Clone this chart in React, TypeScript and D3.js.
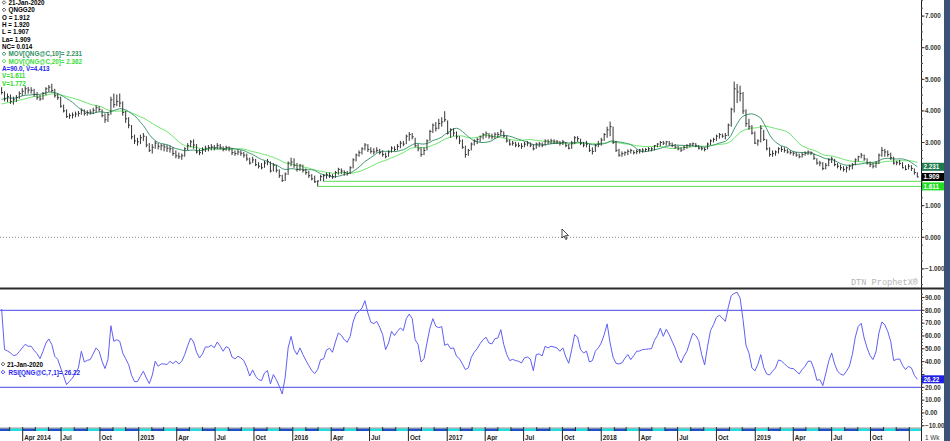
import React, { useEffect, useRef } from 'react';
import * as d3 from 'd3';

// weekly bars: [high, low, close]
type Bar = [number, number, number];

// closes before the visible window, only used to seed the moving averages
const warmupCloses = [3.95, 4.05, 4.1, 4.0, 3.9, 4.05, 4.2, 4.3, 4.15, 4.05, 4.1, 4.25, 4.35, 4.4, 4.3, 4.2, 4.35, 4.5, 4.6];

const yearStarts = ['2014-02-10', '2015-01-05', '2016-01-04', '2017-01-02', '2018-01-01', '2019-01-07', '2020-01-06'];

const bars2014: Bar[] = [
    [4.75, 4.52, 4.58], [4.62, 4.30, 4.38], [4.55, 4.28, 4.45], [4.52, 4.22, 4.30], [4.45, 4.20, 4.35], [4.50, 4.28, 4.42], [4.62, 4.38, 4.55], [4.72, 4.48, 4.62], [4.78, 4.52, 4.70], [4.76, 4.55, 4.66],
    [4.75, 4.55, 4.65], [4.70, 4.45, 4.52], [4.60, 4.35, 4.42], [4.50, 4.32, 4.38], [4.60, 4.35, 4.55], [4.75, 4.50, 4.70], [4.82, 4.60, 4.75], [4.86, 4.58, 4.65], [4.70, 4.42, 4.48], [4.55, 4.35, 4.42],
    [4.45, 4.10, 4.15], [4.20, 3.95, 4.00], [4.05, 3.78, 3.82], [3.92, 3.75, 3.85], [3.95, 3.76, 3.87], [3.98, 3.80, 3.90], [4.00, 3.82, 3.92], [4.08, 3.88, 4.02], [4.05, 3.85, 3.92], [4.02, 3.85, 3.95],
    [4.05, 3.88, 3.96], [4.10, 3.90, 4.02], [4.18, 3.95, 4.10], [4.15, 3.98, 4.05], [4.05, 3.80, 3.85], [3.92, 3.62, 3.72], [3.95, 3.65, 3.88], [4.45, 3.88, 4.35], [4.55, 4.10, 4.20], [4.52, 4.15, 4.30],
    [4.55, 4.12, 4.25], [4.30, 3.85, 3.95], [4.00, 3.62, 3.75], [3.80, 3.45, 3.55], [3.55, 3.10, 3.18], [3.25, 2.95, 3.05], [3.15, 2.90, 3.02]
];
const bars2015: Bar[] = [
    [3.25, 2.95, 3.15], [3.30, 3.05, 3.20], [3.20, 2.85, 2.92], [2.98, 2.70, 2.75], [2.95, 2.65, 2.85], [3.05, 2.80, 2.98], [2.98, 2.78, 2.88], [2.95, 2.75, 2.90], [2.95, 2.72, 2.86], [2.92, 2.70, 2.82],
    [2.90, 2.68, 2.80], [2.85, 2.58, 2.65], [2.75, 2.50, 2.58], [2.68, 2.48, 2.55], [2.65, 2.45, 2.58], [2.85, 2.55, 2.80], [2.98, 2.75, 2.90], [3.08, 2.85, 3.02], [3.10, 2.80, 2.92], [2.95, 2.65, 2.70],
    [2.80, 2.60, 2.68], [2.85, 2.62, 2.78], [2.90, 2.70, 2.82], [2.92, 2.72, 2.84], [2.95, 2.75, 2.86], [2.92, 2.75, 2.82], [2.98, 2.78, 2.90], [2.95, 2.78, 2.85], [2.88, 2.72, 2.78], [2.90, 2.74, 2.84],
    [2.88, 2.72, 2.80], [2.82, 2.60, 2.68], [2.75, 2.58, 2.65], [2.78, 2.60, 2.70], [2.75, 2.58, 2.66], [2.70, 2.52, 2.60], [2.65, 2.42, 2.48], [2.52, 2.30, 2.35], [2.55, 2.35, 2.45], [2.48, 2.25, 2.30],
    [2.38, 2.18, 2.25], [2.35, 2.15, 2.20], [2.42, 2.20, 2.35], [2.48, 2.28, 2.40], [2.40, 2.05, 2.10], [2.35, 2.08, 2.28], [2.30, 2.05, 2.12], [2.15, 1.88, 1.95], [1.98, 1.75, 1.80], [2.05, 1.78, 2.00],
    [2.40, 1.98, 2.35], [2.52, 2.25, 2.38]
];
const bars2016: Bar[] = [
    [2.50, 2.20, 2.28], [2.35, 2.08, 2.15], [2.32, 2.10, 2.28], [2.30, 2.05, 2.12], [2.18, 1.98, 2.05], [2.10, 1.88, 1.95], [2.00, 1.80, 1.85], [1.95, 1.72, 1.76], [1.80, 1.611, 1.78], [1.98, 1.78, 1.92],
    [2.00, 1.772, 1.95], [2.05, 1.85, 1.98], [2.05, 1.88, 1.96], [2.00, 1.85, 1.92], [2.10, 1.88, 2.05], [2.20, 1.98, 2.15], [2.18, 2.00, 2.10], [2.12, 1.95, 2.05], [2.10, 1.95, 2.02], [2.25, 2.00, 2.20],
    [2.50, 2.18, 2.45], [2.65, 2.40, 2.60], [2.75, 2.55, 2.68], [2.85, 2.62, 2.80], [2.98, 2.75, 2.92], [2.95, 2.70, 2.78], [2.85, 2.65, 2.72], [2.82, 2.62, 2.70], [2.85, 2.68, 2.75], [2.80, 2.62, 2.68],
    [2.75, 2.55, 2.62], [2.68, 2.50, 2.55], [2.75, 2.55, 2.70], [2.88, 2.68, 2.82], [2.88, 2.72, 2.78], [2.95, 2.75, 2.88], [3.05, 2.82, 2.98], [3.05, 2.88, 2.95], [3.25, 2.95, 3.20], [3.33, 3.05, 3.25],
    [3.30, 3.10, 3.18], [3.15, 2.85, 2.90], [2.95, 2.72, 2.80], [2.85, 2.55, 2.62], [2.85, 2.60, 2.75], [3.10, 2.75, 3.05], [3.40, 3.05, 3.35], [3.60, 3.30, 3.55], [3.65, 3.35, 3.45], [3.75, 3.42, 3.60],
    [3.80, 3.50, 3.65], [3.99, 3.65, 3.72]
];
const bars2017: Bar[] = [
    [3.70, 3.25, 3.30], [3.45, 3.15, 3.40], [3.45, 3.20, 3.30], [3.35, 3.10, 3.18], [3.20, 2.95, 3.05], [3.10, 2.80, 2.85], [2.90, 2.52, 2.62], [2.80, 2.58, 2.75], [3.00, 2.75, 2.95], [3.10, 2.90, 3.05],
    [3.15, 2.95, 3.10], [3.22, 3.02, 3.18], [3.30, 3.10, 3.25], [3.35, 3.15, 3.28], [3.30, 3.12, 3.20], [3.28, 3.10, 3.18], [3.32, 3.12, 3.26], [3.33, 3.15, 3.25], [3.42, 3.20, 3.35], [3.35, 3.15, 3.20],
    [3.22, 3.00, 3.05], [3.10, 2.90, 2.95], [3.05, 2.90, 2.98], [3.02, 2.85, 2.92], [3.00, 2.85, 2.90], [2.98, 2.80, 2.88], [3.02, 2.85, 2.95], [3.05, 2.88, 2.98], [3.00, 2.85, 2.92], [2.95, 2.75, 2.80],
    [3.00, 2.80, 2.95], [3.02, 2.85, 2.96], [3.00, 2.85, 2.92], [3.10, 2.90, 3.05], [3.10, 2.95, 3.02], [3.12, 2.95, 3.05], [3.10, 2.95, 3.04], [3.08, 2.95, 3.02], [3.05, 2.90, 2.98], [3.08, 2.92, 3.02],
    [3.02, 2.85, 2.90], [2.95, 2.78, 2.82], [3.05, 2.80, 2.98], [3.20, 2.95, 3.15], [3.20, 3.02, 3.12], [3.12, 2.92, 2.98], [3.02, 2.85, 2.92], [3.05, 2.85, 2.95], [2.95, 2.70, 2.75], [2.85, 2.62, 2.72],
    [2.95, 2.70, 2.90], [3.05, 2.85, 2.95]
];
const bars2018: Bar[] = [
    [3.15, 2.90, 3.08], [3.30, 3.05, 3.25], [3.50, 3.15, 3.40], [3.66, 3.20, 3.50], [3.50, 2.95, 3.00], [3.05, 2.70, 2.75], [2.80, 2.55, 2.60], [2.72, 2.55, 2.65], [2.72, 2.58, 2.68], [2.78, 2.60, 2.72],
    [2.80, 2.65, 2.75], [2.75, 2.62, 2.68], [2.78, 2.63, 2.72], [2.80, 2.65, 2.76], [2.82, 2.68, 2.76], [2.82, 2.70, 2.78], [2.85, 2.72, 2.80], [2.85, 2.72, 2.80], [2.92, 2.75, 2.90], [2.98, 2.85, 2.95],
    [3.05, 2.88, 3.00], [3.05, 2.92, 2.98], [3.05, 2.90, 3.02], [3.05, 2.90, 2.96], [3.00, 2.85, 2.90], [2.95, 2.80, 2.85], [2.90, 2.75, 2.80], [2.85, 2.70, 2.76], [2.90, 2.75, 2.85], [2.95, 2.80, 2.90],
    [2.98, 2.85, 2.95], [3.00, 2.88, 2.96], [2.98, 2.85, 2.90], [2.92, 2.78, 2.82], [2.88, 2.75, 2.80], [2.85, 2.72, 2.78], [3.00, 2.78, 2.95], [3.10, 2.92, 3.05], [3.15, 3.00, 3.10], [3.25, 3.05, 3.20],
    [3.30, 3.12, 3.25], [3.28, 3.15, 3.20], [3.30, 3.10, 3.22], [3.60, 3.20, 3.55], [4.10, 3.50, 4.05], [4.93, 3.95, 4.70], [4.85, 4.25, 4.60], [4.80, 4.30, 4.55], [4.60, 3.90, 4.00], [4.05, 3.50, 3.60],
    [3.75, 3.40, 3.50], [3.55, 3.25, 3.30], [3.35, 2.95, 2.98]
];
const bars2019: Bar[] = [
    [3.10, 2.90, 3.05], [3.55, 3.00, 3.45], [3.40, 3.05, 3.10], [3.10, 2.75, 2.80], [2.85, 2.55, 2.62], [2.75, 2.55, 2.65], [2.75, 2.58, 2.70], [2.85, 2.65, 2.80], [2.88, 2.70, 2.78], [2.85, 2.68, 2.75],
    [2.80, 2.65, 2.70], [2.75, 2.62, 2.68], [2.72, 2.58, 2.66], [2.70, 2.55, 2.60], [2.65, 2.50, 2.55], [2.68, 2.52, 2.62], [2.72, 2.58, 2.66], [2.75, 2.60, 2.70], [2.72, 2.60, 2.68], [2.65, 2.45, 2.50],
    [2.50, 2.30, 2.35], [2.42, 2.25, 2.35], [2.38, 2.12, 2.18], [2.35, 2.15, 2.28], [2.50, 2.25, 2.45], [2.55, 2.35, 2.48], [2.48, 2.25, 2.30], [2.35, 2.18, 2.25], [2.30, 2.12, 2.20], [2.25, 2.08, 2.15],
    [2.25, 2.05, 2.20], [2.30, 2.12, 2.25], [2.35, 2.15, 2.30], [2.50, 2.28, 2.45], [2.58, 2.40, 2.55], [2.67, 2.50, 2.60], [2.62, 2.42, 2.48], [2.50, 2.30, 2.35], [2.40, 2.22, 2.30], [2.35, 2.18, 2.25],
    [2.40, 2.20, 2.35], [2.65, 2.32, 2.60], [2.86, 2.55, 2.75], [2.80, 2.55, 2.70], [2.75, 2.55, 2.62], [2.68, 2.45, 2.52], [2.55, 2.30, 2.35], [2.42, 2.28, 2.36], [2.45, 2.28, 2.34], [2.38, 2.18, 2.20],
    [2.28, 2.12, 2.15], [2.32, 2.15, 2.25]
];
const bars2020: Bar[] = [[2.28, 2.10, 2.18], [2.18, 1.98, 2.05], [2.06, 1.90, 1.909]];

// RSI(7), one value per week
const rsi2014 = [81, 49.4, 48.3, 46.8, 44.7, 45.2, 47.8, 50.7, 53.5, 52, 52, 48.8, 46.2, 42.3, 48, 54.5, 57.7, 53.3, 44.2, 41.8, 35, 28.6, 22.1, 24.7, 27.3, 31.2, 35.1, 48.1, 39.7, 41, 41.6, 46, 50.7, 48.1, 40.3, 34.6, 41.6, 68, 55.8, 57.1, 55.8, 46.8, 42.3, 37.7, 29.4, 24.4, 24.4];
const rsi2015 = [28.6, 32.5, 27.3, 22.9, 29.4, 40.3, 36.4, 38.2, 38.2, 37.7, 40.3, 38.4, 40.5, 38.2, 40.3, 45.5, 52.5, 58.4, 55.3, 47.3, 42.9, 46, 51.4, 51.4, 52.7, 50.9, 55.3, 52, 48.1, 51.7, 50.4, 43.6, 42.1, 44.2, 42.9, 40.8, 35.6, 28.8, 33.5, 28.6, 26, 25.2, 31.2, 33, 22.6, 29.9, 26, 20.8, 14.8, 27.8, 50.7, 59.7];
const rsi2016 = [49.4, 45.5, 50.7, 45.5, 41, 36.9, 33, 30.7, 33.8, 41.6, 42.1, 49.1, 50.4, 47.3, 55.3, 62.3, 60.5, 57.1, 55.1, 59.7, 70.9, 77.4, 79.2, 81.8, 87.5, 77.9, 70.7, 69.6, 71.4, 66.8, 61, 49.4, 54.5, 63.6, 60.3, 63.6, 66.2, 64.2, 73.5, 77.1, 73.5, 57.1, 53.3, 39.7, 42.3, 54.5, 66, 73.5, 67.5, 66.5, 67.3, 52.7];
const rsi2017 = [53.8, 50.1, 50.7, 44.2, 42.3, 38.2, 33.8, 35.1, 43.4, 47.3, 50.1, 54, 57.1, 59, 54.5, 53.8, 57.9, 58.4, 64.9, 53.3, 45.5, 40.8, 41.8, 40.8, 40.3, 39, 42.9, 43.6, 42.1, 33, 45.5, 46, 44.4, 52, 50.7, 52, 51.4, 50.7, 48.1, 50.7, 43.6, 38.7, 49.4, 61, 59, 49.4, 46.8, 48.1, 39.7, 40.8, 48.1, 50.7];
const rsi2018 = [54.5, 61, 69.4, 54.5, 43.4, 38.7, 38.2, 39, 42.6, 45.5, 41.6, 44.7, 48.1, 48.3, 49.4, 49.6, 49.9, 50.1, 56.4, 60.3, 66, 59.7, 65.2, 61, 55.8, 50.7, 43.6, 39, 44.2, 48.1, 55.3, 62.1, 60.3, 56.4, 45.5, 37.4, 52, 64.2, 68.8, 74.5, 76.1, 74, 71.4, 82.3, 91.4, 93.2, 94, 89.6, 72.7, 52.7, 46.8, 35.3, 32.7];
const rsi2019 = [37.7, 45.5, 35.6, 30.4, 29.6, 32.5, 35.1, 41.3, 40.5, 38.4, 36.1, 34.8, 34.6, 32.5, 30.4, 33.8, 36.4, 40.3, 40.3, 34.3, 25.5, 26, 21.3, 30.4, 40.3, 46.8, 38.2, 32.5, 30.4, 29.4, 32.5, 36.4, 45.5, 59, 67.5, 69.9, 58.4, 50.7, 44.7, 41.6, 47.5, 62.3, 70.9, 68.8, 63.4, 55.8, 40.8, 41.8, 42.1, 37.1, 33.8, 36.4];
const rsi2020 = [35.1, 29.4, 26.22];

// axis labels (2.000 and 30.00 sit under the value boxes and are not shown)
const priceTicks = [-1, 0, 1, 3, 4, 5, 6, 7];
const priceTickMarks = [-1, 0, 1, 2, 3, 4, 5, 6, 7];
const rsiTicks = [90, 80, 70, 60, 50, 40, 20, 10, 0, -10];
const rsiTickMarks = [90, 80, 70, 60, 50, 40, 30, 20, 10, 0, -10];
const supportLevels = [1.611, 1.772];

const legendLines = [
    { text: '21-Jan-2020', color: '#000', icon: true },
    { text: 'QNGG20', color: '#000', icon: true },
    { text: 'O = 1.912', color: '#000', icon: false },
    { text: 'H = 1.920', color: '#000', icon: false },
    { text: 'L = 1.907', color: '#000', icon: false },
    { text: 'La= 1.909', color: '#000', icon: false },
    { text: 'NC= 0.014', color: '#000', icon: false },
    { text: 'MOV[QNG@C,10]= 2.231', color: '#2e8f5e', icon: true },
    { text: 'MOV[QNG@C,20]= 2.362', color: '#3bdc3b', icon: true },
    { text: 'A=90.0, V=4.413', color: '#2626f0', icon: false },
    { text: 'V=1.611', color: '#2ad82a', icon: false },
    { text: 'V=1.772', color: '#2ad82a', icon: false }
];

const FONT = '"Liberation Sans", Arial, sans-serif';
const AXIS_X = 921;

const App: React.FC = () => {
    const svgRef = useRef<SVGSVGElement>(null);

    useEffect(() => {
        if (!svgRef.current) return;
        const svg = d3.select(svgRef.current);
        svg.selectAll('*').remove();

        const parse = d3.timeParse('%Y-%m-%d');
        const years = [bars2014, bars2015, bars2016, bars2017, bars2018, bars2019, bars2020];
        const rsiYears = [rsi2014, rsi2015, rsi2016, rsi2017, rsi2018, rsi2019, rsi2020];

        const bars: { date: Date; h: number; l: number; c: number; rsi: number }[] = [];
        years.forEach((yb, yi) => {
            const start = parse(yearStarts[yi]) as Date;
            yb.forEach((b, k) => {
                bars.push({ date: d3.timeDay.offset(start, 7 * k), h: b[0], l: b[1], c: b[2], rsi: rsiYears[yi][k] });
            });
        });

        const closes = warmupCloses.concat(bars.map(b => b.c));
        const off = warmupCloses.length;
        const movAvg = (n: number) => bars.map((_, i) => d3.mean(closes.slice(i + off - n + 1, i + off + 1)) as number);
        const ma10 = movAvg(10);
        const ma20 = movAvg(20);

        const x = d3.scaleTime()
            .domain([new Date(2014, 3, 1), new Date(2020, 0, 1)])
            .range([22.7, 909.3]);
        const y = d3.scaleLinear().domain([0, 7]).range([237.3, 16.1]);
        const yr = d3.scaleLinear().domain([20, 80]).range([387.3, 310.3]);

        svg.append('rect').attr('width', 950).attr('height', 441).attr('fill', '#fff');

        const defs = svg.append('defs');
        defs.append('clipPath').attr('id', 'pclip').append('rect').attr('x', 0).attr('y', 0).attr('width', AXIS_X).attr('height', 287);
        defs.append('clipPath').attr('id', 'rclip').append('rect').attr('x', 0).attr('y', 290).attr('width', AXIS_X).attr('height', 138);

        // --- price panel ---
        const pg = svg.append('g').attr('clip-path', 'url(#pclip)');

        pg.append('line')
            .attr('x1', 0).attr('x2', AXIS_X)
            .attr('y1', y(0)).attr('y2', y(0))
            .attr('stroke', '#8a8a8a').attr('stroke-dasharray', '1,2');

        supportLevels.forEach(v => {
            const first = bars.find(b => Math.abs(b.l - v) < 1e-6)!;
            pg.append('line')
                .attr('x1', x(first.date)).attr('x2', AXIS_X)
                .attr('y1', y(v)).attr('y2', y(v))
                .attr('stroke', '#55dd55').attr('stroke-width', 1);
        });

        const maLine = (vals: number[]) => d3.line<number>()
            .x((_, i) => x(bars[i].date))
            .y(d => y(d))(vals);

        pg.append('path').attr('d', maLine(ma20)).attr('fill', 'none').attr('stroke', '#6ce66c').attr('stroke-width', 1);
        pg.append('path').attr('d', maLine(ma10)).attr('fill', 'none').attr('stroke', '#3f9c70').attr('stroke-width', 1);

        const bg = pg.append('g').attr('stroke', '#333').attr('stroke-width', 1);
        bars.forEach(b => {
            const bx = x(b.date);
            bg.append('line').attr('x1', bx).attr('x2', bx).attr('y1', y(b.h)).attr('y2', y(b.l));
            bg.append('line').attr('x1', bx).attr('x2', bx + 1.5).attr('y1', y(b.c)).attr('y2', y(b.c));
        });

        svg.append('text')
            .attr('x', 918).attr('y', 285)
            .attr('text-anchor', 'end')
            .attr('font-family', '"Liberation Mono", "DejaVu Sans Mono", monospace')
            .attr('font-size', 8.6)
            .attr('fill', '#b4b4b4')
            .text('DTN ProphetX®');

        // legend
        legendLines.forEach((ln, k) => {
            const ty = 4.9 + k * 7.33;
            const tx = ln.icon ? 8.5 : 2;
            if (ln.icon) {
                svg.append('path')
                    .attr('d', `M4,${ty - 4.2} L5.8,${ty - 2.4} L4,${ty - 0.6} L2.2,${ty - 2.4} Z`)
                    .attr('fill', 'none').attr('stroke', k < 2 ? '#444' : ln.color).attr('stroke-width', 0.9);
            }
            svg.append('text')
                .attr('x', tx).attr('y', ty)
                .attr('font-family', FONT).attr('font-weight', 'bold').attr('font-size', 6.3)
                .attr('fill', ln.color)
                .text(ln.text);
        });

        // --- separator ---
        svg.append('line').attr('x1', 0).attr('x2', 950).attr('y1', 288.5).attr('y2', 288.5)
            .attr('stroke', '#2b2b2b').attr('stroke-width', 2);

        // --- RSI panel ---
        const rg = svg.append('g').attr('clip-path', 'url(#rclip)');
        [80, 20].forEach(v => {
            rg.append('line').attr('x1', 0).attr('x2', AXIS_X)
                .attr('y1', yr(v)).attr('y2', yr(v))
                .attr('stroke', '#4848e0').attr('stroke-width', 1);
        });
        rg.append('path')
            .attr('d', d3.line<typeof bars[0]>().x(d => x(d.date)).y(d => yr(d.rsi))(bars))
            .attr('fill', 'none').attr('stroke', '#6060f4').attr('stroke-width', 1);

        svg.append('path')
            .attr('d', `M3,${366.5 - 4.2} L4.8,${366.5 - 2.4} L3,${366.5 - 0.6} L1.2,${366.5 - 2.4} Z`)
            .attr('fill', 'none').attr('stroke', '#444').attr('stroke-width', 0.9);
        svg.append('text').attr('x', 7).attr('y', 366.5)
            .attr('font-family', FONT).attr('font-weight', 'bold').attr('font-size', 6.3).attr('fill', '#000')
            .text('21-Jan-2020');
        svg.append('path')
            .attr('d', `M3,${374.5 - 4.2} L4.8,${374.5 - 2.4} L3,${374.5 - 0.6} L1.2,${374.5 - 2.4} Z`)
            .attr('fill', 'none').attr('stroke', '#2626f0').attr('stroke-width', 0.9);
        svg.append('text').attr('x', 8.5).attr('y', 374.5)
            .attr('font-family', FONT).attr('font-weight', 'bold').attr('font-size', 6.3).attr('fill', '#2626f0')
            .text('RSI[QNG@C,7,1]= 26.22');

        // --- right axis ---
        svg.append('line').attr('x1', AXIS_X + 0.5).attr('x2', AXIS_X + 0.5).attr('y1', 0).attr('y2', 441)
            .attr('stroke', '#222').attr('stroke-width', 1);

        const ax = svg.append('g').attr('font-family', FONT).attr('font-weight', 'bold').attr('font-size', 6.3).attr('fill', '#333');
        d3.range(-1.5, 7.51, 0.25).forEach(v => {
            ax.append('line').attr('x1', AXIS_X).attr('x2', AXIS_X + 2).attr('y1', y(v)).attr('y2', y(v)).attr('stroke', '#555');
        });
        priceTickMarks.forEach(v => {
            ax.append('line').attr('x1', AXIS_X).attr('x2', AXIS_X + 3.5).attr('y1', y(v)).attr('y2', y(v)).attr('stroke', '#333');
        });
        priceTicks.forEach(v => {
            ax.append('text').attr('x', 925).attr('y', y(v) + 2.2).text(d3.format('.3f')(v));
        });
        d3.range(-10, 95, 2.5).forEach(v => {
            ax.append('line').attr('x1', AXIS_X).attr('x2', AXIS_X + 2).attr('y1', yr(v)).attr('y2', yr(v)).attr('stroke', '#555');
        });
        rsiTickMarks.forEach(v => {
            ax.append('line').attr('x1', AXIS_X).attr('x2', AXIS_X + 3.5).attr('y1', yr(v)).attr('y2', yr(v)).attr('stroke', '#333');
        });
        rsiTicks.forEach(v => {
            ax.append('text').attr('x', 925).attr('y', yr(v) + 2.2).text(d3.format('.2f')(v));
        });

        // value boxes on the axis
        const last = bars[bars.length - 1];
        const boxes = [
            { v: y(1.611), label: '1.611', fill: '#22dd22' },
            { v: y(ma10[ma10.length - 1]), label: d3.format('.3f')(ma10[ma10.length - 1]), fill: '#1d7a4c' },
            { v: y(last.c), label: d3.format('.3f')(last.c), fill: '#000' },
            { v: yr(last.rsi), label: d3.format('.2f')(last.rsi), fill: '#1f1fe6' }
        ];
        boxes.forEach(bx => {
            svg.append('rect').attr('x', AXIS_X + 1).attr('y', bx.v - 4).attr('width', 22).attr('height', 8).attr('fill', bx.fill);
            svg.append('text').attr('x', AXIS_X + 2.5).attr('y', bx.v + 2.3)
                .attr('font-family', FONT).attr('font-weight', 'bold').attr('font-size', 6.3).attr('fill', '#fff')
                .text(bx.label);
        });

        // --- time axis ---
        const months = d3.timeMonth.range(new Date(2014, 0, 1), new Date(2020, 2, 1));
        months.forEach((m, k) => {
            const x0 = Math.max(0, x(m));
            const x1 = Math.min(AXIS_X, x(d3.timeMonth.offset(m, 1)));
            if (x1 <= x0) return;
            svg.append('rect').attr('x', x0).attr('y', 428.5).attr('width', x1 - x0).attr('height', 2.5)
                .attr('fill', k % 2 ? '#1e50c8' : '#22dede');
            svg.append('line').attr('x1', x(m)).attr('x2', x(m)).attr('y1', 427).attr('y2', 431).attr('stroke', '#222');
        });
        svg.append('line').attr('x1', 0).attr('x2', AXIS_X).attr('y1', 428).attr('y2', 428).attr('stroke', '#555').attr('stroke-width', 0.6);

        const monthName = d3.timeFormat('%b');
        const quarters = d3.timeMonth.every(3)!.range(new Date(2014, 3, 1), new Date(2020, 1, 1));
        quarters.forEach((q, k) => {
            const qx = x(q);
            svg.append('line').attr('x1', qx).attr('x2', qx).attr('y1', 431).attr('y2', 441).attr('stroke', '#222');
            if (q.getFullYear() === 2020) return;
            const label = k === 0 ? 'Apr 2014' : q.getMonth() === 0 ? String(q.getFullYear()) : monthName(q);
            svg.append('text').attr('x', qx + 1.5).attr('y', 439.5)
                .attr('font-family', FONT).attr('font-weight', 'bold').attr('font-size', 6.3).attr('fill', '#222')
                .text(label);
        });
        svg.append('text').attr('x', 925).attr('y', 439.5)
            .attr('font-family', FONT).attr('font-size', 6.3).attr('fill', '#333')
            .text('1  Wk');

        // right window edge
        svg.append('rect').attr('x', 944).attr('y', 0).attr('width', 6).attr('height', 441).attr('fill', '#3c5274');

        // mouse pointer
        svg.append('path')
            .attr('d', 'M562,229 L562,238 L564.2,236 L565.8,239.5 L567,239 L565.5,235.6 L568.5,235.6 Z')
            .attr('fill', '#fff').attr('stroke', '#000').attr('stroke-width', 0.7);
    }, []);

    return (
        <>
            <style>{'body{margin:0;overflow:hidden}'}</style>
            <svg ref={svgRef} width={950} height={441} style={{ display: 'block' }} />
        </>
    );
};

export default App;
